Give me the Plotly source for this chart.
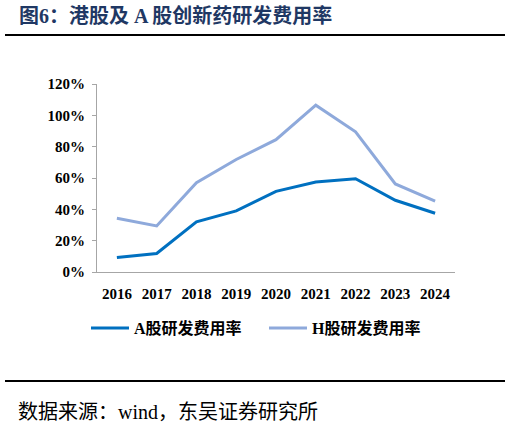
import plotly.graph_objects as go

# 年份与研发费用率（%）
years = ["2016", "2017", "2018", "2019", "2020", "2021", "2022", "2023", "2024"]
a_rate = [9.3, 11.8, 32.0, 39.0, 51.5, 57.5, 59.5, 45.8, 37.5]
h_rate = [34.3, 29.4, 57.0, 71.8, 84.5, 106.5, 89.5, 56.2, 45.3]
y_ticks = [0, 20, 40, 60, 80, 100, 120]
y_labels = [f"{v}%" for v in y_ticks]

W, H = 510, 428
L, R, T, B = 97, 455, 84, 272  # 绘图区像素位置


def px(x):
    return (x - L) / (R - L)


def py(y):
    return (B - y) / (B - T)


serif = "Liberation Serif, Noto Sans CJK SC"

fig = go.Figure()
fig.add_trace(go.Scatter(x=years, y=a_rate, mode="lines", name="A股研发费用率",
                         line=dict(color="#0070C0", width=3)))
fig.add_trace(go.Scatter(x=years, y=h_rate, mode="lines", name="H股研发费用率",
                         line=dict(color="#8EA9DB", width=3)))

fig.update_layout(
    width=W, height=H,
    margin=dict(l=L, r=W - R, t=T, b=H - B, autoexpand=False),
    paper_bgcolor="white", plot_bgcolor="white",
    font=dict(family=serif, size=15, color="black"),
    showlegend=True,
    legend=dict(orientation="h", x=px(86), y=py(328), xanchor="left", yanchor="middle",
                font=dict(family=serif, size=16, color="black", weight="bold"),
                itemwidth=38, entrywidth=125),
)

fig.update_xaxes(range=[-0.5, len(years) - 0.5], showgrid=False, showline=True,
                 linecolor="#A6A6A6", linewidth=1,
                 ticks="", tickfont=dict(family=serif, size=15, weight="bold"),
                 ticklabelstandoff=8, automargin=False)
fig.update_yaxes(range=[0, 120], tickvals=y_ticks, ticktext=y_labels,
                 showgrid=False, zeroline=False, showline=True, linecolor="#A6A6A6",
                 linewidth=1, ticks="outside", ticklen=4, tickcolor="#A6A6A6",
                 tickfont=dict(family=serif, size=15, weight="bold"),
                 ticklabelstandoff=4, automargin=False)

# 标题与分隔线
fig.add_annotation(xref="paper", yref="paper", x=px(17), y=py(16), xanchor="left", yanchor="middle",
                   text="<b>图6：港股及 A 股创新药研发费用率</b>", showarrow=False,
                   font=dict(family=serif, size=20, color="#1F3864"))
fig.add_shape(type="line", xref="paper", yref="paper", x0=px(5), x1=px(505), y0=py(35), y1=py(35),
              line=dict(color="black", width=2))
fig.add_shape(type="line", xref="paper", yref="paper", x0=px(5), x1=px(505), y0=py(381), y1=py(381),
              line=dict(color="black", width=2))
fig.add_annotation(xref="paper", yref="paper", x=px(16), y=py(412), xanchor="left", yanchor="middle",
                   text="数据来源：wind，东吴证券研究所", showarrow=False,
                   font=dict(family=serif, size=20, color="black"))

# 去掉页面默认边距
fig.write_html("out.html", config={"displayModeBar": False},
               post_script="document.body.style.margin='0';")
